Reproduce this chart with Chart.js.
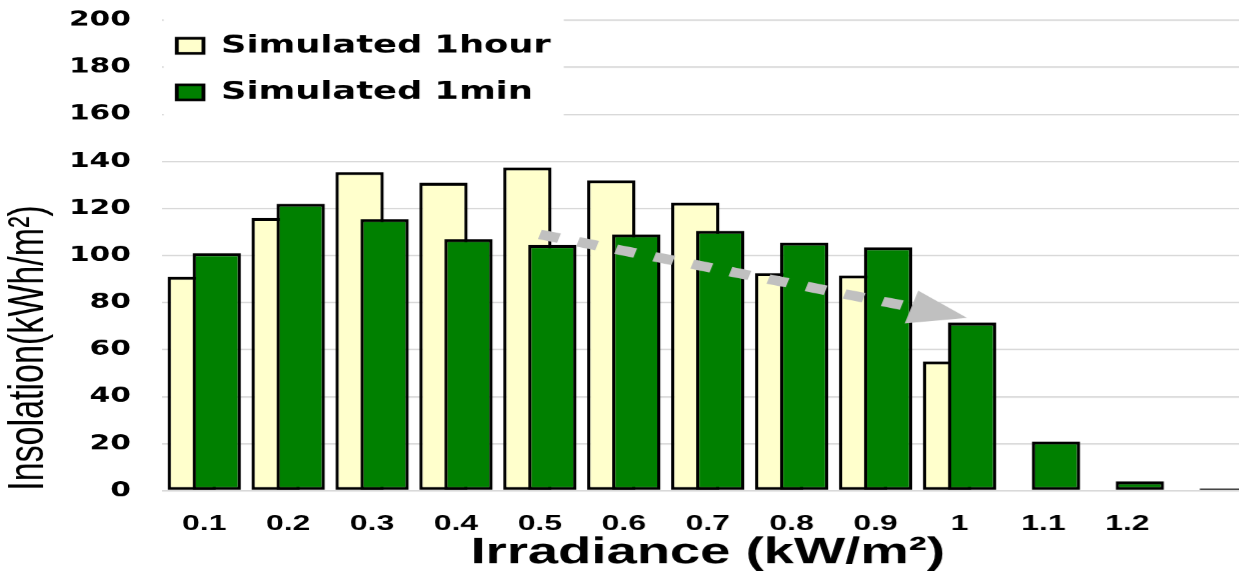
<!DOCTYPE html>
<html>
<head>
<meta charset="utf-8">
<script src="https://cdn.jsdelivr.net/npm/chart.js@4.4.1/dist/chart.umd.min.js"></script>
<style>
  html, body { margin: 0; padding: 0; background: #ffffff; overflow: hidden; width: 1239px; height: 571px; }
  /* the whole chart is drawn narrow and widened horizontally */
  #wrap { position: absolute; left: 0; top: 0; transform: scaleX(1.45); transform-origin: 0 0; }
  canvas { display: block; }
</style>
</head>
<body>
<div id="wrap"><canvas id="chart" width="865" height="575"></canvas></div>
<script>
// ---- data ----
const categories = ['0.1', '0.2', '0.3', '0.4', '0.5', '0.6', '0.7', '0.8', '0.9', '1', '1.1', '1.2', ''];
const hourValues = [91, 116, 135.5, 131, 137.5, 132, 122.5, 92.5, 91.5, 55, null, null, null];
const minValues  = [101, 122, 115.5, 107, 104.5, 109, 110.5, 105.5, 103.5, 71.5, 21, 4, 1];
const seriesNames = ['Simulated 1hour', 'Simulated 1min'];
const yMin = 0, yMax = 200, yStep = 20;
// trend arrow, in data units (x = category index)
const trendFrom = { x: 4, y: 109 };
const trendTo   = { x: 9.09, y: 73.5 };

// ---- layout ----
const STRETCH = 1.45;
const Y_AXIS_WIDTH = 111.9;
const X_AXIS_HEIGHT = 84.7;
const TOP_PAD = 20.3;
const PLOT_RIGHT_PAD = 0.9;

// white panel behind the legend, then the legend again, then the back series
const layering = {
  id: 'layering',
  afterLayout(chart) {
    const lg = chart.legend, ca = chart.chartArea;
    const pad = lg.options.labels.padding;
    lg.left = ca.left + 10 - pad;
    lg.right = lg.left + lg.width;
    lg.top = ca.top + 13.35 - pad;
    lg.bottom = lg.top + lg.height;
  },
  beforeDatasetsDraw(chart) {
    const ctx = chart.ctx, ca = chart.chartArea, lg = chart.legend;
    const hb = lg.legendHitBoxes || [];
    if (hb.length) {
      const right = Math.max(...hb.map(b => b.left + b.width)) + 8;
      const bottom = Math.max(...hb.map(b => b.top + b.height)) + 16;
      ctx.save();
      ctx.fillStyle = '#ffffff';
      ctx.fillRect(ca.left + 1, ca.top - 2, right - ca.left, bottom - ca.top + 2);
      ctx.restore();
      lg.draw();
    }
    // the 1-hour bars sit behind the 1-min bars
    const meta = chart.getDatasetMeta(0);
    ctx.save();
    ctx.beginPath();
    ctx.rect(ca.left, ca.top - 5, ca.width, ca.height + 10);
    ctx.clip();
    meta.controller.draw();
    ctx.restore();
  },
  beforeDatasetDraw(chart, args) {
    if (args.index === 0) return false;
  }
};

const trendArrow = {
  id: 'trendArrow',
  afterDatasetsDraw(chart) {
    const xs = chart.scales.x, ys = chart.scales.y, ctx = chart.ctx;
    const x0 = xs.getPixelForValue(trendFrom.x), y0 = ys.getPixelForValue(trendFrom.y);
    const x1 = xs.getPixelForValue(trendTo.x), y1 = ys.getPixelForValue(trendTo.y);
    const dx = x1 - x0, dy = y1 - y0, len = Math.hypot(dx, dy);
    const ux = dx / len, uy = dy / len;
    const headLen = 39.8, headHalf = 17.1;
    const bx = x1 - ux * headLen, by = y1 - uy * headLen;
    ctx.save();
    ctx.strokeStyle = '#c0c0c0';
    ctx.fillStyle = '#c0c0c0';
    ctx.lineWidth = 9.6;
    ctx.lineCap = 'butt';
    ctx.setLineDash([13.7, 13.6]);
    ctx.beginPath();
    ctx.moveTo(x0, y0);
    ctx.lineTo(bx, by);
    ctx.stroke();
    ctx.setLineDash([]);
    ctx.beginPath();
    ctx.moveTo(x1, y1);
    ctx.lineTo(bx - uy * headHalf, by + ux * headHalf);
    ctx.lineTo(bx + uy * headHalf, by - ux * headHalf);
    ctx.closePath();
    ctx.fill();
    ctx.restore();
  }
};

const barBorder = { top: 3, bottom: 3, left: 2.3, right: 2.3 };

new Chart(document.getElementById('chart'), {
  type: 'bar',
  data: {
    labels: categories,
    datasets: [
      {
        label: seriesNames[0],
        data: hourValues,
        backgroundColor: '#FFFFCC',
        borderColor: '#000000',
        borderWidth: barBorder,
        borderSkipped: false,
        categoryPercentage: 0.596,
        barPercentage: 1.932
      },
      {
        label: seriesNames[1],
        data: minValues,
        backgroundColor: '#008000',
        borderColor: '#000000',
        borderWidth: barBorder,
        borderSkipped: false,
        categoryPercentage: 0.596,
        barPercentage: 1.932
      }
    ]
  },
  options: {
    responsive: false,
    devicePixelRatio: STRETCH,
    animation: false,
    events: [],
    layout: { padding: { top: TOP_PAD, right: PLOT_RIGHT_PAD, left: 0, bottom: 0 } },
    plugins: {
      tooltip: { enabled: false },
      legend: {
        position: 'chartArea',
        align: 'start',
        labels: {
          color: '#000000',
          font: { family: 'DejaVu Sans', weight: 'bold', size: 24.3 },
          boxWidth: 18.4,
          boxHeight: 15,
          padding: 22.1
        }
      }
    },
    scales: {
      x: {
        type: 'category',
        grid: { display: false },
        border: { display: false },
        ticks: {
          color: '#000000',
          font: { family: 'Liberation Sans', weight: 'bold', size: 22 },
          padding: 12,
          maxRotation: 0,
          autoSkip: false
        },
        title: {
          display: true,
          text: 'Irradiance (kW/m²)',
          color: '#000000',
          font: { family: 'Liberation Sans', weight: 'bold', size: 37.5 },
          padding: { top: 0, bottom: 0 }
        },
        afterFit(scale) { scale.height = X_AXIS_HEIGHT; }
      },
      y: {
        min: yMin,
        max: yMax,
        grid: { color: '#d9d9d9', lineWidth: 1.5, drawTicks: false },
        border: { display: false },
        ticks: {
          stepSize: yStep,
          color: '#000000',
          font: { family: 'DejaVu Sans', weight: 'bold', size: 20.5 },
          padding: 21.6
        },
        title: {
          display: true,
          text: 'Insolation(kWh/m²)',
          align: 'start',
          color: '#000000',
          font: { family: 'Liberation Sans', weight: 'normal', size: 34 },
          padding: { top: 0, bottom: 0 }
        },
        afterFit(scale) {
          scale.width = Y_AXIS_WIDTH;
          scale.paddingTop = 0;
          scale.paddingBottom = 0;
        }
      }
    }
  },
  plugins: [layering, trendArrow]
});
</script>
</body>
</html>
